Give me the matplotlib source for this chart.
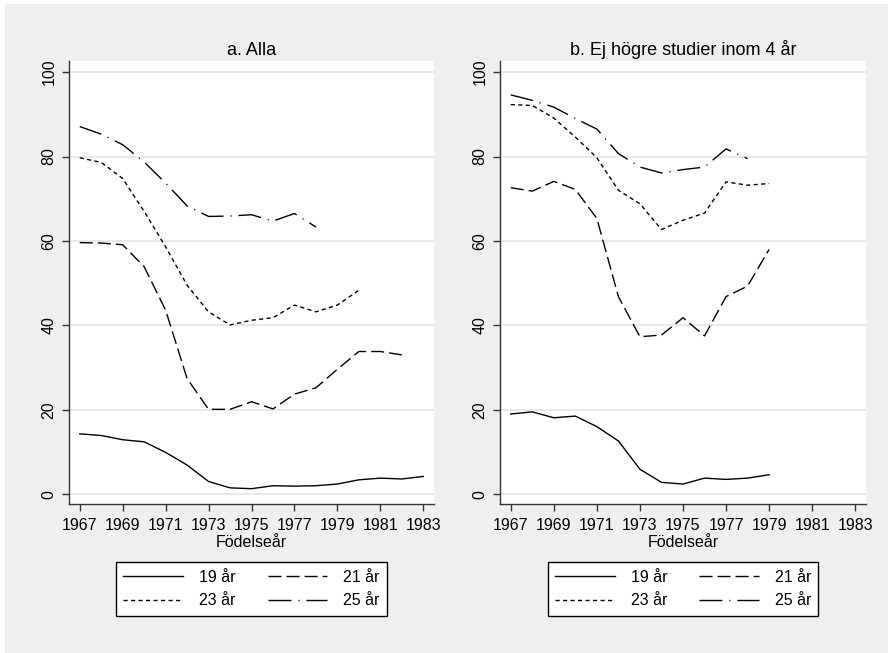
import numpy as np
import matplotlib
matplotlib.use("Agg")
import matplotlib.pyplot as plt
from matplotlib.patches import Rectangle

plt.rcParams["font.family"] = ["Liberation Sans", "DejaVu Sans"]
plt.rcParams["lines.scale_dashes"] = False

# data (share in %, by birth year)
years_a = list(range(1967, 1984))
alla_19 = [14.3, 13.9, 12.9, 12.4, 9.9, 6.9, 3.0, 1.5, 1.3, 2.0, 1.9, 2.0, 2.4, 3.4, 3.8, 3.6, 4.2]
alla_21 = [59.6, 59.5, 59.1, 53.9, 43.6, 27.4, 20.1, 20.1, 21.9, 20.2, 23.7, 25.2, 29.6, 33.8, 33.8, 33.0]
alla_23 = [79.7, 78.6, 74.8, 67.0, 58.6, 49.5, 43.2, 40.1, 41.2, 41.8, 44.8, 43.2, 44.8, 48.3]
alla_25 = [87.1, 85.3, 82.8, 78.7, 73.7, 68.3, 65.8, 65.9, 66.2, 64.7, 66.5, 63.3]

ej_19 = [19.0, 19.5, 18.1, 18.5, 16.0, 12.6, 5.9, 2.8, 2.4, 3.8, 3.5, 3.8, 4.6]
ej_21 = [72.6, 71.8, 74.1, 72.2, 65.3, 46.8, 37.3, 37.7, 41.8, 37.5, 46.8, 49.3, 58.0]
ej_23 = [92.3, 92.1, 89.1, 84.6, 79.7, 72.0, 68.8, 62.7, 64.9, 66.6, 74.0, 73.2, 73.6]
ej_25 = [94.6, 93.3, 91.7, 89.0, 86.5, 80.7, 77.5, 76.1, 76.9, 77.5, 81.8, 79.5]

labels = ["19 år", "21 år", "23 år", "25 år"]
titles = ["a. Alla", "b. Ej högre studier inom 4 år"]
xticks = list(range(1967, 1984, 2))
yticks = list(range(0, 101, 20))

# line styles in points (1 px = 0.72 pt)
styles = [
    dict(linestyle="-"),
    dict(linestyle=(0, (9.4, 3.6))),
    dict(linestyle=(0, (3.0, 2.4))),
    dict(linestyle=(0, (16.5, 5.0, 0.8, 5.0))),
]

BG = "#efefef"
W, H = 888, 653
fig = plt.figure(figsize=(W / 100, H / 100), dpi=100, facecolor="white")
fig.patches.append(Rectangle((5 / W, 0), 1, 1 - 4 / H, transform=fig.transFigure,
                             facecolor=BG, edgecolor="none", zorder=-10))

ax_pos = [
    [69 / W, 1 - 504.3 / H, 365 / W, 443.6 / H],
    [500 / W, 1 - 504.3 / H, 366 / W, 443.6 / H],
]
panels = [
    [alla_19, alla_21, alla_23, alla_25],
    [ej_19, ej_21, ej_23, ej_25],
]

for pos, series, title in zip(ax_pos, panels, titles):
    ax = fig.add_axes(pos)
    ax.set_facecolor("white")
    lines = []
    for vals, lab, st in zip(series, labels, styles):
        x = years_a[:len(vals)]
        ln, = ax.plot(x, vals, color="black", lw=1.0, label=lab, **st)
        lines.append(ln)

    ax.set_xlim(1966.5, 1983.5)
    ax.set_ylim(-2.4, 102.7)
    ax.set_xticks(xticks)
    ax.set_yticks(yticks)
    ax.grid(axis="y", color="#e4e4e4", lw=1.2)
    ax.set_axisbelow(True)
    for s in ["top", "right"]:
        ax.spines[s].set_visible(False)
    for s in ["left", "bottom"]:
        ax.spines[s].set_color("#333333")
        ax.spines[s].set_linewidth(1.0)
    ax.tick_params(axis="both", length=5, width=1.0, color="#333333",
                   labelsize=11.5, pad=5)
    ax.tick_params(axis="y", pad=4)
    plt.setp(ax.get_yticklabels(), rotation=90, va="center")

    ax.set_title(title, fontsize=13, pad=4)
    ax.set_xlabel("Födelseår", fontsize=11.5, labelpad=1)

    # legend fills row by row: 19/21 on top, 23/25 below
    order = [0, 2, 1, 3]
    leg = ax.legend([lines[i] for i in order], [labels[i] for i in order],
                    loc="upper center", bbox_to_anchor=(0.5, -0.113), ncol=2,
                    fontsize=11.5, handlelength=3.75, handletextpad=1.0,
                    columnspacing=2.0, labelspacing=0.55, borderpad=0.45,
                    fancybox=False, framealpha=1, edgecolor="black")
    leg.get_frame().set_linewidth(1.0)

fig.savefig("out.png", dpi=100, facecolor="white")
